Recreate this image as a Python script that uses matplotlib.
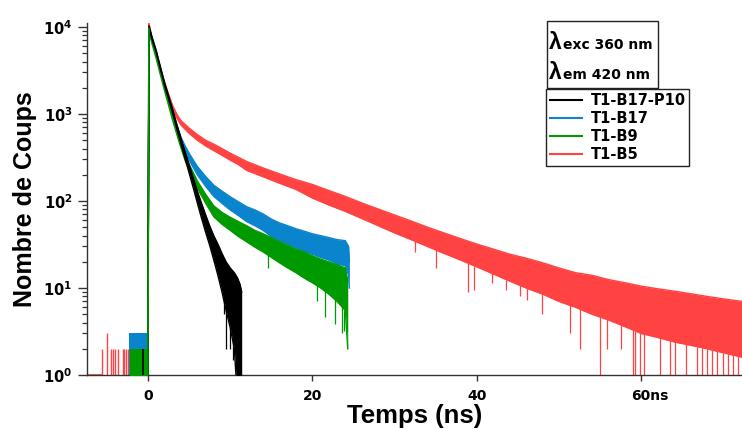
import numpy as np
import matplotlib
matplotlib.use('Agg')
import matplotlib.pyplot as plt
from matplotlib.lines import Line2D
from matplotlib.patches import Rectangle
from matplotlib.ticker import FixedLocator, LogLocator, NullFormatter
from matplotlib.transforms import ScaledTranslation

# --- donnees (temps en ns, nombre de coups) ---
# bords bas / haut de la bande de bruit de chaque declin
black_t = [-0.02, 0.12, 0.5, 1.0, 1.5, 2.0, 2.5, 3.0, 3.5, 4.0, 4.5, 5.0, 5.5, 6.0,
           6.5, 7.0, 7.5, 8.0, 8.5, 9.0, 9.5, 10.0, 10.5, 10.9, 11.2, 11.4]
black_lo = [1, 9700, 7150, 5100, 3300, 2160, 1490, 1020, 680, 455, 310, 210, 142, 95,
            64, 44, 31, 21, 14, 9, 5.5, 3.5, 2, 0.5, 0.5, 0.5]
black_hi = [1, 10300, 7650, 5400, 3520, 2330, 1620, 1130, 765, 530, 370, 262, 185, 130,
            95, 70, 52, 40, 32, 25, 20, 17, 15, 13, 11, 9]

blue_t = [-0.02, 0.12, 0.5, 1, 1.5, 2, 2.5, 3, 3.5, 4, 4.5, 5, 5.5, 6, 7, 8, 9, 10, 11, 12,
          13, 14, 15, 16, 17, 18, 19, 20, 21, 22, 23, 24, 24.4, 24.5]
blue_lo = [1, 9000, 6700, 4650, 3150, 2030, 1390, 955, 670, 475, 368, 295, 243, 200, 148,
           113, 94, 79, 68, 58, 52, 46, 39, 35, 32, 29, 26.5, 24.5, 22.5, 21, 19, 18, 14, 10]
blue_hi = [1, 9600, 7100, 4950, 3350, 2180, 1510, 1050, 750, 545, 432, 355, 297, 250, 192,
           152, 130, 112, 98, 86, 79, 71, 62, 56, 52, 48, 45, 42, 40, 38, 36, 35, 30, 20]

green_t = [-0.02, 0.12, 0.5, 1, 1.5, 2, 2.5, 3, 3.5, 4, 4.5, 5, 5.5, 6, 7, 8, 9, 10, 11, 12,
           13, 14, 15, 16, 17, 18, 19, 20, 21, 22, 23, 24, 24.3]
green_lo = [1, 9000, 6400, 4320, 2840, 1870, 1260, 845, 585, 410, 295, 225, 178, 140, 95,
            66, 54, 46, 39, 34, 29.5, 26, 22.5, 19.5, 17, 15, 13, 11.5, 10, 8.5, 7, 5.5, 2]
green_hi = [1, 9600, 6800, 4620, 3060, 2030, 1380, 935, 655, 465, 340, 265, 213, 170, 120,
            88, 74, 65, 58, 52, 46, 42, 38, 34, 31, 28, 26, 23.5, 21.5, 20, 18.5, 17, 12]

red_t = [-0.02, 0.1, 0.5, 1, 1.5, 2, 2.5, 3, 3.5, 4, 5, 6, 7, 8, 9, 10, 11, 12, 14, 16,
         18, 20, 22, 24, 26, 28, 30, 32, 34, 36, 38, 40, 42, 44, 46, 48, 50, 52, 54, 56,
         58, 60, 62, 64, 66, 68, 70, 72.3]
red_lo = [1, 10700, 7000, 4850, 3200, 2200, 1580, 1140, 900, 750, 600, 500, 430, 380, 335,
          295, 262, 225, 190, 160, 136, 108, 90, 76, 63, 52, 43, 36, 30, 25, 21, 17.5,
          14.5, 12, 10, 8.5, 7, 6, 5, 4.3, 3.6, 3, 2.7, 2.4, 2.2, 2, 1.8, 1.6]
red_hi = [1, 11300, 7350, 5150, 3400, 2350, 1700, 1250, 1000, 840, 690, 580, 500, 450, 400,
          355, 318, 285, 240, 205, 176, 155, 132, 113, 95, 81, 69, 59, 50, 43, 37, 32,
          28, 24.5, 22, 19.5, 17, 15, 14, 12.5, 11.5, 10.5, 9.8, 9.2, 8.6, 8, 7.5, 7]

# pics vers le bas (canaux isoles)
black_dip_t = [9.2, 9.45, 10.0, 10.3]
black_dip_v = [5, 2, 2, 1.5]
green_dip_t = [14.6, 20.5, 21.5, 22.7, 23.6, 23.9, 24.3]
green_dip_v = [17, 7, 4.7, 3.9, 3, 3.2, 2]
red_dip_t = [32.5, 35.0, 38.9, 39.7, 41.8, 43.6, 45.3, 46.1, 47.9, 51.3, 52.5, 55.8, 57.6]
red_dip_v = [26, 17, 9, 9.5, 11.4, 9.5, 8, 7.2, 5, 3, 2, 2, 2]
red_zero_t = [55.0, 59.0, 59.2, 59.9, 60.3, 62.3, 63.5, 64.1, 65.5, 66.8, 67.4, 68.0,
              68.6, 69.2, 70.0, 70.6, 71.2, 71.8]

# bruit de fond avant l'impulsion
red_base_t = [-7.42, -5.6]
red_base_v = [1, 1]
red_pre_t = [-5.6, -4.95, -4.5, -4.25, -4.0, -3.7, -3.1, -2.9, -2.65, -2.45]
red_pre_v = [2, 3, 2, 2, 2, 2, 2, 2, 2, 2]
blue_pre_t = [-2.27, -2.2, -2.15, -0.1]
blue_pre_v = [3, 4, 3, 3]
green_pre_t = [-2.2, 0.0]
green_pre_v = [2, 2]
black_pre_t = [-0.57]
black_pre_v = [2]

labels = ['T1-B17-P10', 'T1-B17', 'T1-B9', 'T1-B5']
colors = ['#000000', '#0a84cc', '#009a00', '#ff4343']
x_ticks = [0, 20, 40, 60]
x_ticklabels = ['0', '20', '40', '60ns']
y_ticks = [1, 10, 100, 1000, 10000]

plt.rcParams['font.family'] = ['DejaVu Sans']
plt.rcParams['font.weight'] = 'bold'
plt.rcParams['mathtext.fontset'] = 'dejavusans'
plt.rcParams['mathtext.default'] = 'bf'

W, H = 742, 429
fig = plt.figure(figsize=(W / 100, H / 100), dpi=100)
ax = fig.add_axes([87 / W, 54 / H, 655 / W, 352 / H])
ax.set_yscale('log')
ax.set_xlim(-7.42, 72.26)
ax.set_ylim(1, 10 ** 4.046)

c_black, c_blue, c_green, c_red = colors


def draw_band(t, lo, hi, color, z):
    ax.fill_between(t, lo, hi, color=color, linewidth=0, zorder=z)
    ax.plot(t, lo, color=color, lw=1.0, zorder=z)
    ax.plot(t, hi, color=color, lw=1.0, zorder=z)


def draw_dips(t, v, st, slo, color, z):
    tops = np.interp(t, st, slo)
    ax.vlines(t, v, tops, color=color, lw=0.9, zorder=z)


# bruit avant t = 0
ax.plot(red_base_t, red_base_v, color=c_red, lw=1.2, zorder=1)
ax.vlines(red_pre_t, 0.5, red_pre_v, color=c_red, lw=1.0, zorder=1)
ax.fill_between(blue_pre_t, 0.5, blue_pre_v, step='post', color=c_blue, linewidth=0, zorder=2)
ax.fill_between(green_pre_t, 0.5, green_pre_v, step='post', color=c_green, linewidth=0, zorder=3)
ax.vlines(black_pre_t, 0.5, black_pre_v, color=c_black, lw=1.2, zorder=4)

# declins
draw_band(red_t, red_lo, red_hi, c_red, 1)
draw_band(blue_t, blue_lo, blue_hi, c_blue, 2)
draw_band(green_t, green_lo, green_hi, c_green, 3)
draw_band(black_t, black_lo, black_hi, c_black, 4)
# front de montee : la courbe verte passe au-dessus
ax.plot(green_t[:2], green_hi[:2], color=c_green, lw=1.2, zorder=5)

draw_dips(red_dip_t, red_dip_v, red_t, red_lo, c_red, 1)
draw_dips(red_zero_t, [0.5] * len(red_zero_t), red_t, red_lo, c_red, 1)
draw_dips(green_dip_t, green_dip_v, green_t, green_lo, c_green, 3)
draw_dips(black_dip_t, black_dip_v, black_t, black_lo, c_black, 4)

# axes style Igor
for s in ['top', 'right']:
    ax.spines[s].set_visible(False)
for s in ['left', 'bottom']:
    ax.spines[s].set_color('#333333')
    ax.spines[s].set_linewidth(1.0)

ax.xaxis.set_major_locator(FixedLocator(x_ticks))
ax.set_xticklabels(x_ticklabels)
ax.yaxis.set_major_locator(FixedLocator(y_ticks))
ax.yaxis.set_minor_locator(LogLocator(base=10, subs=np.arange(2, 10)))
ax.yaxis.set_minor_formatter(NullFormatter())
ax.set_yticklabels([r'$10^{%d}$' % int(np.log10(v)) for v in y_ticks])

ax.tick_params(axis='x', which='major', direction='out', length=4.3, width=1.0,
               color='#333333', pad=6, labelsize=10)
ax.tick_params(axis='y', which='major', direction='out', length=6.5, width=1.0,
               color='#333333', pad=4, labelsize=10.5)
ax.tick_params(axis='y', which='minor', direction='out', length=3.6, width=0.9,
               color='#333333')
for lab in ax.get_xticklabels() + ax.get_yticklabels():
    lab.set_fontweight('bold')

# "60ns" : le 60 reste centre sur la graduation
lab60 = ax.get_xticklabels()[-1]
lab60.set_transform(lab60.get_transform() + ScaledTranslation(9 / 100, 0, fig.dpi_scale_trans))

ax.set_xlabel('Temps (ns)', fontsize=18.5, fontweight='bold', family='Liberation Sans')
ax.set_ylabel('Nombre de Coups', fontsize=18, fontweight='bold', family='Liberation Sans')
ax.xaxis.set_label_coords(0.5, -0.081)
ax.yaxis.set_label_coords(-0.076, 0.5)

# encadre des longueurs d'onde
fig.patches.append(Rectangle((547 / W, 1 - 88 / H), 111 / W, 67 / H, transform=fig.transFigure,
                             fill=False, edgecolor='#222222', linewidth=1.0))
for yb, txt in [(49, 'exc 360 nm'), (79, 'em 420 nm')]:
    fig.text(549 / W, 1 - yb / H, 'λ', fontsize=16.5, fontweight='bold',
             family='Liberation Sans', va='baseline', ha='left')
    fig.text(563 / W, 1 - yb / H, txt, fontsize=10, fontweight='bold',
             va='baseline', ha='left')

handles = [Line2D([], [], color=c, lw=1.5) for c in colors]
leg = fig.legend(handles, labels, loc='upper left', bbox_to_anchor=(546 / W, 1 - 89 / H),
                 bbox_transform=fig.transFigure, borderaxespad=0, fontsize=10.5,
                 frameon=True, fancybox=False, edgecolor='#222222', framealpha=1,
                 borderpad=0.25, labelspacing=0.22, handlelength=2.2, handletextpad=0.6)
leg.get_frame().set_linewidth(1.0)
for t in leg.get_texts():
    t.set_fontweight('bold')

fig.savefig('out.png', dpi=100)
